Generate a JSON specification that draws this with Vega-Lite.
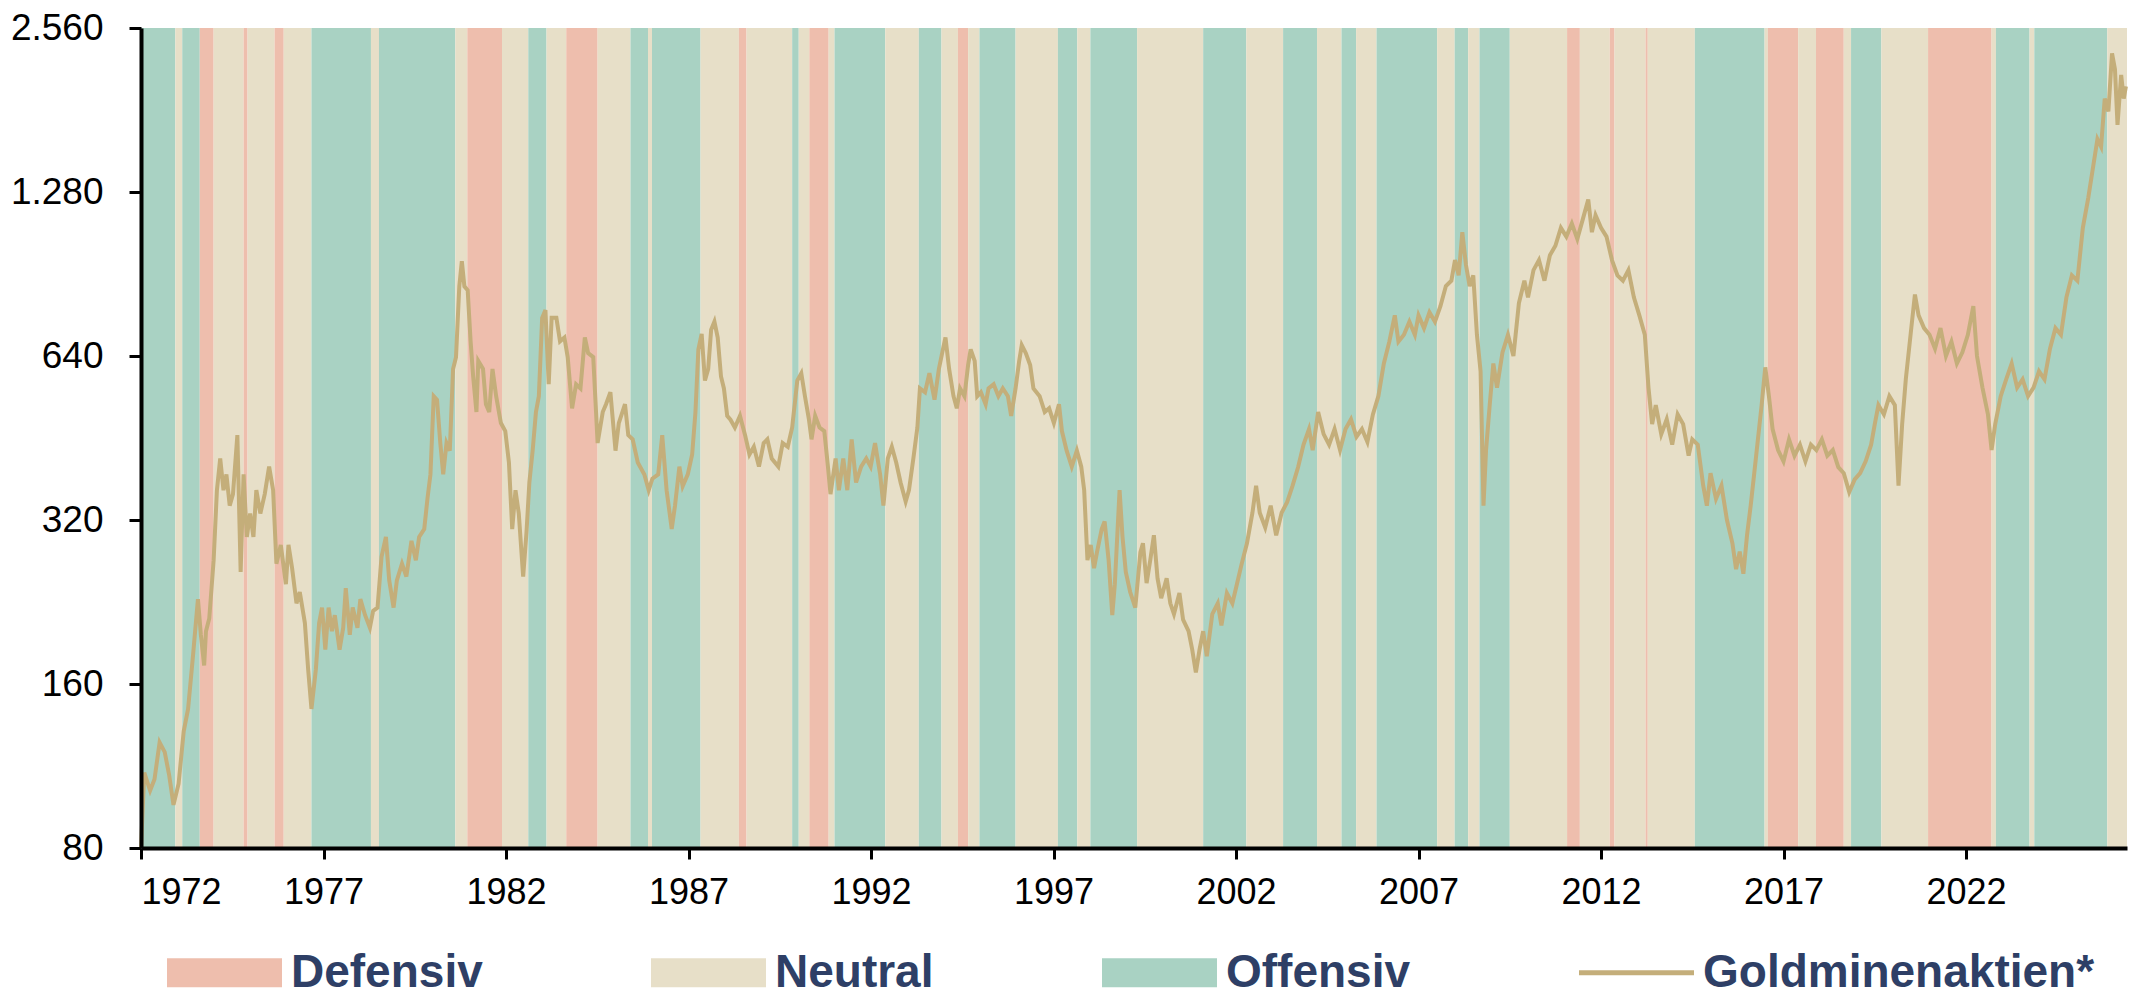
{
"$schema": "https://vega.github.io/schema/vega-lite/v6.json",
"width": 1986, "height": 820,
"autosize": {"type": "none"},
"padding": {"left": 141, "top": 28, "right": 17, "bottom": 160},
"background": "white",
"config": {"view": {"stroke": null}, "font": "Liberation Sans"},
"datasets": {
"regimes": [
{"start":1972.00,"end":1972.94,"regime":"Offensiv"},
{"start":1972.94,"end":1973.13,"regime":"Neutral"},
{"start":1973.13,"end":1973.61,"regime":"Offensiv"},
{"start":1973.61,"end":1973.99,"regime":"Defensiv"},
{"start":1973.99,"end":1974.81,"regime":"Neutral"},
{"start":1974.81,"end":1974.92,"regime":"Defensiv"},
{"start":1974.92,"end":1975.66,"regime":"Neutral"},
{"start":1975.66,"end":1975.91,"regime":"Defensiv"},
{"start":1975.91,"end":1976.67,"regime":"Neutral"},
{"start":1976.67,"end":1978.30,"regime":"Offensiv"},
{"start":1978.30,"end":1978.52,"regime":"Neutral"},
{"start":1978.52,"end":1980.61,"regime":"Offensiv"},
{"start":1980.61,"end":1980.94,"regime":"Neutral"},
{"start":1980.94,"end":1981.89,"regime":"Defensiv"},
{"start":1981.89,"end":1982.61,"regime":"Neutral"},
{"start":1982.61,"end":1983.11,"regime":"Offensiv"},
{"start":1983.11,"end":1983.65,"regime":"Neutral"},
{"start":1983.65,"end":1984.51,"regime":"Defensiv"},
{"start":1984.51,"end":1985.41,"regime":"Neutral"},
{"start":1985.41,"end":1985.89,"regime":"Offensiv"},
{"start":1985.89,"end":1986.00,"regime":"Neutral"},
{"start":1986.00,"end":1987.33,"regime":"Offensiv"},
{"start":1987.33,"end":1988.38,"regime":"Neutral"},
{"start":1988.38,"end":1988.59,"regime":"Defensiv"},
{"start":1988.59,"end":1989.84,"regime":"Neutral"},
{"start":1989.84,"end":1990.02,"regime":"Offensiv"},
{"start":1990.02,"end":1990.31,"regime":"Neutral"},
{"start":1990.31,"end":1990.84,"regime":"Defensiv"},
{"start":1990.84,"end":1991.00,"regime":"Neutral"},
{"start":1991.00,"end":1992.39,"regime":"Offensiv"},
{"start":1992.39,"end":1993.31,"regime":"Neutral"},
{"start":1993.31,"end":1993.93,"regime":"Offensiv"},
{"start":1993.93,"end":1994.38,"regime":"Neutral"},
{"start":1994.38,"end":1994.66,"regime":"Defensiv"},
{"start":1994.66,"end":1994.97,"regime":"Neutral"},
{"start":1994.97,"end":1995.96,"regime":"Offensiv"},
{"start":1995.96,"end":1997.12,"regime":"Neutral"},
{"start":1997.12,"end":1997.65,"regime":"Offensiv"},
{"start":1997.65,"end":1998.01,"regime":"Neutral"},
{"start":1998.01,"end":1999.29,"regime":"Offensiv"},
{"start":1999.29,"end":2001.10,"regime":"Neutral"},
{"start":2001.10,"end":2002.28,"regime":"Offensiv"},
{"start":2002.28,"end":2003.29,"regime":"Neutral"},
{"start":2003.29,"end":2004.22,"regime":"Offensiv"},
{"start":2004.22,"end":2004.89,"regime":"Neutral"},
{"start":2004.89,"end":2005.29,"regime":"Offensiv"},
{"start":2005.29,"end":2005.85,"regime":"Neutral"},
{"start":2005.85,"end":2007.51,"regime":"Offensiv"},
{"start":2007.51,"end":2007.99,"regime":"Neutral"},
{"start":2007.99,"end":2008.36,"regime":"Offensiv"},
{"start":2008.36,"end":2008.67,"regime":"Neutral"},
{"start":2008.67,"end":2009.50,"regime":"Offensiv"},
{"start":2009.50,"end":2011.07,"regime":"Neutral"},
{"start":2011.07,"end":2011.42,"regime":"Defensiv"},
{"start":2011.42,"end":2012.24,"regime":"Neutral"},
{"start":2012.24,"end":2012.37,"regime":"Defensiv"},
{"start":2012.37,"end":2013.22,"regime":"Neutral"},
{"start":2013.22,"end":2013.28,"regime":"Defensiv"},
{"start":2013.28,"end":2014.57,"regime":"Neutral"},
{"start":2014.57,"end":2016.48,"regime":"Offensiv"},
{"start":2016.48,"end":2016.57,"regime":"Neutral"},
{"start":2016.57,"end":2017.40,"regime":"Defensiv"},
{"start":2017.40,"end":2017.89,"regime":"Neutral"},
{"start":2017.89,"end":2018.65,"regime":"Defensiv"},
{"start":2018.65,"end":2018.85,"regime":"Neutral"},
{"start":2018.85,"end":2019.68,"regime":"Offensiv"},
{"start":2019.68,"end":2020.96,"regime":"Neutral"},
{"start":2020.96,"end":2022.70,"regime":"Defensiv"},
{"start":2022.70,"end":2022.82,"regime":"Neutral"},
{"start":2022.82,"end":2023.74,"regime":"Offensiv"},
{"start":2023.74,"end":2023.87,"regime":"Neutral"},
{"start":2023.87,"end":2025.87,"regime":"Offensiv"},
{"start":2025.87,"end":2026.41,"regime":"Neutral"}
],
"gold": [
{"t":1972.00,"v":80},{"t":1972.09,"v":110},{"t":1972.25,"v":102},{"t":1972.37,"v":107},{"t":1972.51,"v":125},{"t":1972.65,"v":120},{"t":1972.77,"v":109},{"t":1972.89,"v":96},{"t":1973.03,"v":105},{"t":1973.17,"v":131},{"t":1973.29,"v":144},{"t":1973.42,"v":179},{"t":1973.56,"v":229},{"t":1973.64,"v":197},{"t":1973.73,"v":173},{"t":1973.78,"v":200},{"t":1973.87,"v":211},{"t":1973.99,"v":270},{"t":1974.08,"v":363},{"t":1974.17,"v":415},{"t":1974.26,"v":363},{"t":1974.34,"v":388},{"t":1974.43,"v":340},{"t":1974.52,"v":357},{"t":1974.64,"v":458},{"t":1974.73,"v":257},{"t":1974.81,"v":388},{"t":1974.90,"v":298},{"t":1974.99,"v":329},{"t":1975.08,"v":298},{"t":1975.16,"v":363},{"t":1975.27,"v":329},{"t":1975.39,"v":357},{"t":1975.51,"v":401},{"t":1975.62,"v":363},{"t":1975.71,"v":266},{"t":1975.83,"v":288},{"t":1975.97,"v":244},{"t":1976.04,"v":288},{"t":1976.14,"v":261},{"t":1976.26,"v":225},{"t":1976.35,"v":236},{"t":1976.49,"v":207},{"t":1976.58,"v":170},{"t":1976.67,"v":144},{"t":1976.79,"v":170},{"t":1976.88,"v":207},{"t":1976.96,"v":221},{"t":1977.05,"v":185},{"t":1977.14,"v":221},{"t":1977.23,"v":200},{"t":1977.31,"v":214},{"t":1977.44,"v":185},{"t":1977.54,"v":203},{"t":1977.61,"v":240},{"t":1977.72,"v":197},{"t":1977.80,"v":221},{"t":1977.93,"v":203},{"t":1978.01,"v":229},{"t":1978.14,"v":214},{"t":1978.27,"v":203},{"t":1978.36,"v":218},{"t":1978.48,"v":221},{"t":1978.59,"v":274},{"t":1978.71,"v":298},{"t":1978.80,"v":248},{"t":1978.92,"v":221},{"t":1979.01,"v":248},{"t":1979.15,"v":266},{"t":1979.27,"v":252},{"t":1979.41,"v":293},{"t":1979.53,"v":270},{"t":1979.62,"v":298},{"t":1979.76,"v":308},{"t":1979.85,"v":351},{"t":1979.93,"v":388},{"t":1980.02,"v":540},{"t":1980.11,"v":532},{"t":1980.20,"v":443},{"t":1980.28,"v":388},{"t":1980.37,"v":443},{"t":1980.46,"v":429},{"t":1980.55,"v":606},{"t":1980.63,"v":637},{"t":1980.72,"v":859},{"t":1980.79,"v":955},{"t":1980.86,"v":859},{"t":1980.95,"v":845},{"t":1981.03,"v":681},{"t":1981.10,"v":587},{"t":1981.19,"v":505},{"t":1981.24,"v":627},{"t":1981.37,"v":606},{"t":1981.45,"v":522},{"t":1981.54,"v":505},{"t":1981.63,"v":606},{"t":1981.73,"v":540},{"t":1981.86,"v":482},{"t":1981.98,"v":466},{"t":1982.08,"v":408},{"t":1982.17,"v":308},{"t":1982.26,"v":363},{"t":1982.35,"v":329},{"t":1982.47,"v":252},{"t":1982.56,"v":303},{"t":1982.64,"v":375},{"t":1982.73,"v":429},{"t":1982.82,"v":505},{"t":1982.90,"v":540},{"t":1982.99,"v":752},{"t":1983.08,"v":777},{"t":1983.17,"v":568},{"t":1983.25,"v":752},{"t":1983.38,"v":752},{"t":1983.48,"v":681},{"t":1983.60,"v":692},{"t":1983.69,"v":637},{"t":1983.81,"v":513},{"t":1983.92,"v":568},{"t":1984.04,"v":558},{"t":1984.16,"v":692},{"t":1984.25,"v":648},{"t":1984.39,"v":637},{"t":1984.51,"v":443},{"t":1984.65,"v":505},{"t":1984.74,"v":522},{"t":1984.86,"v":549},{"t":1985.00,"v":429},{"t":1985.09,"v":482},{"t":1985.26,"v":522},{"t":1985.35,"v":458},{"t":1985.47,"v":450},{"t":1985.61,"v":408},{"t":1985.79,"v":388},{"t":1985.91,"v":363},{"t":1986.01,"v":381},{"t":1986.17,"v":388},{"t":1986.28,"v":458},{"t":1986.40,"v":363},{"t":1986.54,"v":308},{"t":1986.63,"v":340},{"t":1986.75,"v":401},{"t":1986.84,"v":369},{"t":1986.98,"v":388},{"t":1987.10,"v":422},{"t":1987.19,"v":505},{"t":1987.27,"v":658},{"t":1987.36,"v":703},{"t":1987.45,"v":577},{"t":1987.54,"v":606},{"t":1987.62,"v":715},{"t":1987.71,"v":740},{"t":1987.80,"v":692},{"t":1987.89,"v":587},{"t":1987.97,"v":558},{"t":1988.06,"v":497},{"t":1988.15,"v":489},{"t":1988.27,"v":473},{"t":1988.41,"v":497},{"t":1988.55,"v":458},{"t":1988.67,"v":422},{"t":1988.79,"v":436},{"t":1988.93,"v":401},{"t":1989.06,"v":443},{"t":1989.16,"v":450},{"t":1989.28,"v":415},{"t":1989.46,"v":401},{"t":1989.58,"v":443},{"t":1989.72,"v":436},{"t":1989.84,"v":473},{"t":1989.98,"v":577},{"t":1990.09,"v":595},{"t":1990.19,"v":540},{"t":1990.30,"v":489},{"t":1990.37,"v":450},{"t":1990.47,"v":497},{"t":1990.59,"v":473},{"t":1990.72,"v":466},{"t":1990.82,"v":401},{"t":1990.89,"v":357},{"t":1991.03,"v":415},{"t":1991.12,"v":363},{"t":1991.24,"v":415},{"t":1991.35,"v":363},{"t":1991.47,"v":450},{"t":1991.59,"v":375},{"t":1991.73,"v":401},{"t":1991.87,"v":415},{"t":1991.99,"v":401},{"t":1992.11,"v":443},{"t":1992.25,"v":388},{"t":1992.34,"v":340},{"t":1992.46,"v":415},{"t":1992.57,"v":436},{"t":1992.69,"v":408},{"t":1992.81,"v":375},{"t":1992.95,"v":346},{"t":1993.04,"v":363},{"t":1993.16,"v":415},{"t":1993.27,"v":473},{"t":1993.34,"v":558},{"t":1993.48,"v":549},{"t":1993.60,"v":595},{"t":1993.74,"v":532},{"t":1993.86,"v":606},{"t":1993.97,"v":658},{"t":1994.04,"v":692},{"t":1994.14,"v":606},{"t":1994.26,"v":540},{"t":1994.35,"v":513},{"t":1994.44,"v":558},{"t":1994.56,"v":540},{"t":1994.66,"v":616},{"t":1994.73,"v":658},{"t":1994.84,"v":627},{"t":1994.91,"v":540},{"t":1995.01,"v":549},{"t":1995.14,"v":522},{"t":1995.22,"v":558},{"t":1995.36,"v":568},{"t":1995.49,"v":540},{"t":1995.61,"v":558},{"t":1995.75,"v":540},{"t":1995.84,"v":497},{"t":1995.96,"v":558},{"t":1996.06,"v":627},{"t":1996.13,"v":670},{"t":1996.24,"v":648},{"t":1996.36,"v":616},{"t":1996.45,"v":558},{"t":1996.62,"v":540},{"t":1996.76,"v":505},{"t":1996.88,"v":513},{"t":1997.01,"v":482},{"t":1997.15,"v":522},{"t":1997.23,"v":466},{"t":1997.36,"v":429},{"t":1997.50,"v":401},{"t":1997.64,"v":429},{"t":1997.76,"v":401},{"t":1997.84,"v":363},{"t":1997.93,"v":270},{"t":1998.02,"v":288},{"t":1998.11,"v":261},{"t":1998.19,"v":279},{"t":1998.32,"v":308},{"t":1998.40,"v":318},{"t":1998.51,"v":270},{"t":1998.61,"v":214},{"t":1998.68,"v":244},{"t":1998.81,"v":363},{"t":1998.89,"v":298},{"t":1998.98,"v":257},{"t":1999.10,"v":236},{"t":1999.24,"v":221},{"t":1999.38,"v":279},
{"t":1999.45,"v":290},{"t":1999.55,"v":245},{"t":1999.65,"v":270},{"t":1999.75,"v":300},{"t":1999.85,"v":250},{"t":1999.95,"v":230},{"t":2000.1,"v":250},{"t":2000.2,"v":225},{"t":2000.3,"v":215},{"t":2000.45,"v":235},{"t":2000.55,"v":210},{"t":2000.7,"v":200},{"t":2000.8,"v":185},{"t":2000.9,"v":168},{"t":2001.0,"v":185},{"t":2001.1,"v":200},{"t":2001.2,"v":180},{"t":2001.35,"v":215},{"t":2001.5,"v":225},{"t":2001.6,"v":205},{"t":2001.75,"v":235},{"t":2001.9,"v":225},{"t":2002.0,"v":240},{"t":2002.15,"v":265},{"t":2002.3,"v":290},{"t":2002.45,"v":330},{"t":2002.55,"v":370},{"t":2002.65,"v":330},{"t":2002.8,"v":310},{"t":2002.95,"v":340},{"t":2003.1,"v":300},{"t":2003.25,"v":330},{"t":2003.4,"v":345},{"t":2003.55,"v":370},{"t":2003.7,"v":400},{"t":2003.85,"v":440},{"t":2004.0,"v":470},{"t":2004.1,"v":430},{"t":2004.25,"v":505},{"t":2004.4,"v":460},{"t":2004.55,"v":440},{"t":2004.7,"v":470},{"t":2004.85,"v":430},{"t":2005.0,"v":470},{"t":2005.15,"v":490},{"t":2005.3,"v":455},{"t":2005.45,"v":470},{"t":2005.6,"v":445},{"t":2005.75,"v":500},{"t":2005.9,"v":540},{"t":2006.05,"v":620},{"t":2006.2,"v":680},{"t":2006.35,"v":760},{"t":2006.45,"v":680},{"t":2006.6,"v":700},{"t":2006.75,"v":740},{"t":2006.9,"v":700},{"t":2007.0,"v":760},{"t":2007.15,"v":720},{"t":2007.3,"v":770},{"t":2007.45,"v":740},{"t":2007.6,"v":790},{"t":2007.75,"v":860},{"t":2007.9,"v":880},{"t":2008.0,"v":960},{"t":2008.1,"v":900},{"t":2008.2,"v":1080},{"t":2008.3,"v":940},{"t":2008.4,"v":860},{"t":2008.5,"v":900},{"t":2008.6,"v":700},{"t":2008.7,"v":600},{"t":2008.78,"v":340},{"t":2008.85,"v":430},{"t":2008.95,"v":520},{"t":2009.05,"v":620},{"t":2009.15,"v":560},{"t":2009.3,"v":650},{"t":2009.45,"v":700},{"t":2009.6,"v":640},{"t":2009.75,"v":800},{"t":2009.9,"v":880},{"t":2010.0,"v":820},{"t":2010.15,"v":920},{"t":2010.3,"v":960},{"t":2010.45,"v":880},{"t":2010.6,"v":980},{"t":2010.75,"v":1020},{"t":2010.9,"v":1100},{"t":2011.05,"v":1060},{"t":2011.2,"v":1120},{"t":2011.35,"v":1050},{"t":2011.5,"v":1140},{"t":2011.65,"v":1240},{"t":2011.75,"v":1080},{"t":2011.85,"v":1160},{"t":2012.0,"v":1100},{"t":2012.15,"v":1060},{"t":2012.3,"v":960},{"t":2012.45,"v":900},{"t":2012.6,"v":880},{"t":2012.75,"v":920},{"t":2012.9,"v":820},{"t":2013.05,"v":760},{"t":2013.2,"v":700},{"t":2013.3,"v":560},{"t":2013.4,"v":480},{"t":2013.5,"v":520},{"t":2013.65,"v":460},{"t":2013.8,"v":490},{"t":2013.95,"v":440},{"t":2014.1,"v":500},{"t":2014.25,"v":480},{"t":2014.4,"v":420},{"t":2014.5,"v":450},{"t":2014.65,"v":440},{"t":2014.8,"v":370},{"t":2014.9,"v":340},{"t":2015.0,"v":390},{"t":2015.15,"v":350},{"t":2015.3,"v":370},{"t":2015.45,"v":320},{"t":2015.6,"v":290},{"t":2015.7,"v":260},{"t":2015.8,"v":280},{"t":2015.9,"v":255},{"t":2016.0,"v":300},{"t":2016.1,"v":340},{"t":2016.25,"v":420},{"t":2016.4,"v":520},{"t":2016.5,"v":610},{"t":2016.6,"v":540},{"t":2016.7,"v":470},{"t":2016.85,"v":430},{"t":2017.0,"v":410},{"t":2017.15,"v":450},{"t":2017.3,"v":420},{"t":2017.45,"v":440},{"t":2017.6,"v":410},{"t":2017.75,"v":440},{"t":2017.9,"v":430},{"t":2018.05,"v":450},{"t":2018.2,"v":420},{"t":2018.35,"v":430},{"t":2018.5,"v":400},{"t":2018.65,"v":390},{"t":2018.8,"v":360},{"t":2018.95,"v":380},{"t":2019.1,"v":390},{"t":2019.25,"v":410},{"t":2019.4,"v":440},{"t":2019.5,"v":480},{"t":2019.6,"v":520},{"t":2019.75,"v":500},{"t":2019.9,"v":540},{"t":2020.05,"v":520},{"t":2020.15,"v":370},{"t":2020.25,"v":480},{"t":2020.35,"v":580},{"t":2020.5,"v":720},{"t":2020.6,"v":830},{"t":2020.7,"v":760},{"t":2020.85,"v":720},{"t":2021.0,"v":700},{"t":2021.15,"v":660},{"t":2021.3,"v":720},{"t":2021.45,"v":640},{"t":2021.6,"v":680},{"t":2021.75,"v":620},{"t":2021.9,"v":650},{"t":2022.05,"v":700},{"t":2022.2,"v":790},{"t":2022.3,"v":640},{"t":2022.45,"v":560},{"t":2022.6,"v":500},{"t":2022.7,"v":430},{"t":2022.8,"v":480},{"t":2022.95,"v":540},{"t":2023.1,"v":580},{"t":2023.25,"v":620},{"t":2023.4,"v":560},{"t":2023.55,"v":580},{"t":2023.7,"v":540},{"t":2023.85,"v":560},{"t":2024.0,"v":600},{"t":2024.15,"v":580},{"t":2024.3,"v":660},{"t":2024.45,"v":720},{"t":2024.6,"v":700},{"t":2024.75,"v":820},{"t":2024.9,"v":900},{"t":2025.05,"v":880},{"t":2025.2,"v":1100},{"t":2025.35,"v":1250},{"t":2025.5,"v":1450},{"t":2025.6,"v":1600},{"t":2025.7,"v":1550},{"t":2025.8,"v":1900},{"t":2025.9,"v":1800},{"t":2026.0,"v":2300},{"t":2026.08,"v":2150},{"t":2026.15,"v":1700},{"t":2026.25,"v":2100},{"t":2026.32,"v":1900},{"t":2026.38,"v":2000}
]
},
"layer": [
{
"data": {"name": "regimes"},
"mark": {"type": "rect"},
"encoding": {
"x": {"field": "start", "type": "quantitative",
 "scale": {"domain": [1972, 2026.41], "nice": false, "zero": false},
 "axis": {"values": [1972,1977,1982,1987,1992,1997,2002,2007,2012,2017,2022], "format": "d", "title": null, "grid": false, "zindex": 1,
  "domainColor": "black", "domainWidth": 4, "tickColor": "black", "tickWidth": 3, "tickSize": 11,
  "labelFontSize": 36, "labelColor": "black", "labelPadding": 16}},
"x2": {"field": "end"},
"color": {"field": "regime", "type": "nominal",
 "scale": {"domain": ["Defensiv","Neutral","Offensiv","Goldminenaktien*"], "range": ["#EEBEAD","#E7DFC8","#A9D2C3","#C4AE7A"]},
 "legend": {"orient": "none", "legendX": 26, "legendY": 887, "direction": "horizontal", "title": null,
  "symbolType": "M-1,-0.252H1V0.252H-1Z", "symbolSize": 13225, "symbolStrokeWidth": 0, "symbolOpacity": 1,
  "labelFontSize": 46, "labelFontWeight": "bold", "labelColor": "#2E3F66",
  "labelOffset": 9, "columnPadding": 168, "padding": 0, "labelLimit": 0,
  "encode": {"symbols": {"update": {"shape": {"signal": "datum.value === 'Goldminenaktien*' ? 'M-1,-0.045H1V0.045H-1Z' : 'M-1,-0.252H1V0.252H-1Z'"}}}}}}
}
},
{
"data": {"name": "gold"},
"mark": {"type": "line", "color": "#C4AE7A", "strokeWidth": 4},
"encoding": {
"x": {"field": "t", "type": "quantitative"},
"y": {"field": "v", "type": "quantitative",
 "scale": {"type": "log", "base": 2, "domain": [80, 2560], "nice": false},
 "axis": {"values": [80,160,320,640,1280,2560], "labelExpr": "replace(format(datum.value, ','), ',', '.')", "title": null, "grid": false, "zindex": 1,
  "domainColor": "black", "domainWidth": 4, "tickColor": "black", "tickWidth": 3, "tickSize": 12,
  "labelFontSize": 37, "labelColor": "black", "labelPadding": 26}}
}
}
]
}
